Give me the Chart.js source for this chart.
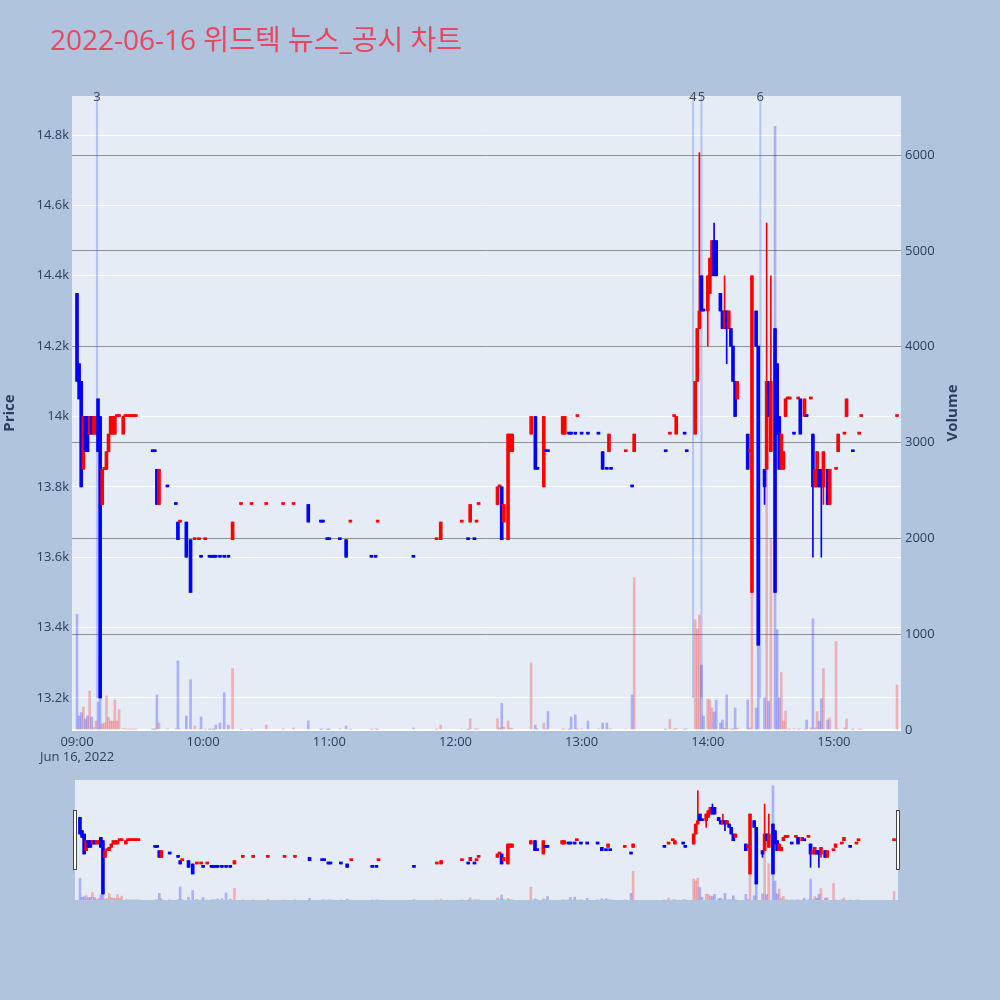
<!DOCTYPE html>
<html>
<head>
<meta charset="utf-8">
<script src="https://cdn.jsdelivr.net/npm/chart.js@4.4.1/dist/chart.umd.min.js"></script>
<style>
  html, body { margin:0; padding:0; background:#B0C4DE; }
  body { width:1000px; height:1000px; position:relative; overflow:hidden; font-family:"Open Sans","Noto Sans CJK KR",sans-serif; }
  #title { position:absolute; left:50px; top:25px; font-size:28px; line-height:28px; color:#E8475F; white-space:nowrap; font-family:"Open Sans","Noto Sans CJK KR",sans-serif; }
  #mainCanvas { position:absolute; left:0; top:0; }
  #sliderCanvas { position:absolute; left:0; top:770px; }
</style>
</head>
<body>
<canvas id="mainCanvas" width="1000" height="770"></canvas>
<canvas id="sliderCanvas" width="1000" height="140"></canvas>
<div id="title">2022-06-16 위드텍 뉴스_공시 차트</div>
<script>
// ---------------- DATA ----------------
const times = [
 "09:00","09:01","09:02","09:03","09:04","09:05","09:06","09:07","09:08","09:09",
 "09:10","09:11","09:12","09:13","09:14","09:15","09:16","09:17","09:18","09:19",
 "09:20","09:22","09:23","09:24","09:25","09:26","09:27","09:28","09:36","09:37",
 "09:38","09:39","09:43","09:47","09:48","09:49","09:52","09:54","09:56","09:58",
 "09:59","10:01","10:03","10:04","10:05","10:06","10:08","10:10","10:12","10:14",
 "10:18","10:23","10:30","10:38","10:43","10:50","10:56","10:57","10:59","11:00",
 "11:05","11:08","11:10","11:20","11:22","11:23","11:40","11:51","11:53","12:03",
 "12:06","12:07","12:09","12:10","12:11","12:20","12:21","12:22","12:23","12:25",
 "12:26","12:27","12:36","12:38","12:39","12:42","12:43","12:44","12:51","12:52",
 "12:54","12:55","12:57","12:58","13:00","13:03","13:08","13:10","13:12","13:13",
 "13:14","13:21","13:24","13:25","13:40","13:42","13:44","13:45","13:49","13:50",
 "13:54","13:55","13:56","13:57","13:58","14:00","14:01","14:02","14:03","14:04",
 "14:06","14:07","14:08","14:09","14:10","14:11","14:12","14:13","14:14","14:19",
 "14:20","14:21","14:23","14:24","14:27","14:28","14:29","14:30","14:32","14:33",
 "14:34","14:35","14:36","14:37","14:38","14:39","14:41","14:43","14:44","14:46",
 "14:47","14:49","14:50","14:51","14:52","14:53","14:54","14:55","14:57","14:58",
 "15:01","15:02","15:05","15:06","15:09","15:12","15:13","15:30"
];
const opens = [
 14350,14150,14100,13850,14000,14000,13950,14000,13950,13950,
 14050,14000,13750,13850,13850,13900,13950,13950,13950,14000,
 14000,13950,14000,14000,14000,14000,14000,14000,13900,13900,
 13850,13750,13800,13750,13700,13700,13700,13650,13650,13650,
 13600,13650,13600,13600,13600,13600,13600,13600,13600,13650,
 13750,13750,13750,13750,13750,13750,13700,13700,13650,13650,
 13650,13650,13700,13600,13600,13700,13600,13650,13650,13700,
 13650,13700,13650,13700,13750,13750,13800,13800,13700,13650,
 13900,13900,13950,14000,13850,13800,13900,13900,13950,13950,
 13950,13950,13950,14000,13950,13950,13950,13900,13850,13900,
 13850,13900,13800,13900,13900,13950,14000,13950,13950,13900,
 13950,14100,14250,14400,14300,14300,14350,14400,14500,14500,
 14350,14300,14250,14300,14250,14250,14200,14100,14050,13950,
 13900,13500,14300,14200,13850,13850,14100,13900,14250,14150,
 14000,13850,13850,14000,14050,14050,13950,14050,14050,14000,
 14000,14050,13950,13800,13800,13850,13850,13800,13850,13750,
 13850,13900,13950,14000,13900,13950,14000,14000
];
const highs = [
 14350,14150,14100,14000,14000,14000,14000,14000,14000,14000,
 14050,14000,13850,13850,13900,13950,14000,14000,14000,14000,
 14000,14000,14000,14000,14000,14000,14000,14000,13900,13900,
 13850,13850,13800,13750,13700,13700,13700,13650,13650,13650,
 13600,13650,13600,13600,13600,13600,13600,13600,13600,13700,
 13750,13750,13750,13750,13750,13750,13700,13700,13650,13650,
 13650,13650,13700,13600,13600,13700,13600,13650,13700,13700,
 13650,13750,13650,13700,13750,13800,13800,13800,13750,13950,
 13950,13950,14000,14000,13850,14000,13900,13900,14000,14000,
 13950,13950,13950,14000,13950,13950,13950,13900,13850,13950,
 13850,13900,13800,13950,13900,13950,14000,14000,13950,13900,
 14100,14250,14750,14400,14300,14400,14450,14500,14550,14500,
 14350,14300,14400,14300,14300,14250,14200,14100,14100,13950,
 13900,14400,14300,14200,13850,14550,14100,14400,14250,14150,
 14000,13950,13900,14050,14050,14050,13950,14050,14050,14050,
 14000,14050,13950,13850,13900,13850,13850,13900,13850,13850,
 13850,13950,13950,14050,13900,13950,14000,14000
];
const lows = [
 14100,14050,13800,13850,13900,13900,13950,13950,13950,13950,
 13900,13200,13750,13850,13850,13900,13950,13950,13950,14000,
 14000,13950,14000,14000,14000,14000,14000,14000,13900,13900,
 13750,13750,13800,13750,13650,13700,13600,13500,13650,13650,
 13600,13650,13600,13600,13600,13600,13600,13600,13600,13650,
 13750,13750,13750,13750,13750,13700,13700,13700,13650,13650,
 13650,13600,13700,13600,13600,13700,13600,13650,13650,13700,
 13650,13700,13650,13700,13750,13750,13800,13650,13700,13650,
 13900,13900,13950,13850,13850,13800,13900,13900,13950,13950,
 13950,13950,13950,14000,13950,13950,13950,13850,13850,13900,
 13850,13900,13800,13900,13900,13950,14000,13950,13950,13900,
 13950,14100,14250,14300,14300,14200,14350,14400,14400,14400,
 14300,14250,14250,14150,14250,14200,14100,14000,14050,13850,
 13900,13500,14200,13350,13750,13850,14000,13900,13500,13950,
 13850,13850,13850,14000,14050,14050,13950,14050,13950,14000,
 14000,14050,13600,13800,13800,13800,13600,13750,13750,13750,
 13850,13900,13950,14000,13900,13950,14000,14000
];
const closes = [
 14100,14050,13800,14000,13900,13900,14000,13950,14000,14000,
 13900,13200,13850,13850,13900,13950,14000,14000,14000,14000,
 14000,14000,14000,14000,14000,14000,14000,14000,13900,13900,
 13750,13850,13800,13750,13650,13700,13600,13500,13650,13650,
 13600,13650,13600,13600,13600,13600,13600,13600,13600,13700,
 13750,13750,13750,13750,13750,13700,13700,13700,13650,13650,
 13650,13600,13700,13600,13600,13700,13600,13650,13700,13700,
 13650,13750,13650,13700,13750,13800,13800,13650,13750,13950,
 13950,13950,14000,13850,13850,14000,13900,13900,14000,14000,
 13950,13950,13950,14000,13950,13950,13950,13850,13850,13950,
 13850,13900,13800,13950,13900,13950,14000,14000,13950,13900,
 14100,14250,14300,14300,14300,14400,14450,14500,14400,14400,
 14300,14250,14300,14250,14300,14200,14100,14000,14100,13850,
 13900,14400,14200,13350,13800,14100,14000,14100,13500,13950,
 13850,13950,13900,14050,14050,14050,13950,14050,13950,14050,
 14000,14050,13800,13850,13900,13800,13800,13900,13750,13850,
 13850,13950,13950,14050,13900,13950,14000,14000
];
const volumes = [
 1210,146,181,240,115,146,408,136,24,94,
 293,770,63,73,356,136,94,94,314,94,
 213,15,10,8,10,8,10,8,5,5,
 366,73,10,10,722,10,146,523,42,10,
 136,5,5,10,5,52,73,390,52,641,
 5,5,52,5,21,94,5,10,5,5,
 10,42,5,5,10,5,21,5,52,10,
 5,118,10,5,10,118,21,279,30,94,
 20,15,700,52,10,73,10,192,5,10,
 5,136,157,5,10,94,10,73,73,10,
 10,10,366,1590,5,108,5,15,5,10,
 1150,1053,1200,680,146,324,314,230,188,314,
 73,104,20,366,10,10,5,230,20,314,
 21,1500,230,900,338,3500,300,2000,6300,1046,
 338,600,94,198,10,5,10,5,10,5,
 104,21,1160,21,192,94,327,641,104,125,
 924,10,21,115,5,5,10,470
];
const priceTicks = [13200,13400,13600,13800,14000,14200,14400,14600,14800];
const volumeTicks = [0,1000,2000,3000,4000,5000,6000];
const timeTickLabels = ["09:00","10:00","11:00","12:00","13:00","14:00","15:00"];
const dateLabel = "Jun 16, 2022";
const newsTimes = ["09:09:30","13:53:00","13:57:00","14:25:00"];
const newsLabels = ["3","4","5","6"];

// ---------------- HELPERS ----------------
const FONT = '"Open Sans", "Noto Sans CJK KR", sans-serif';
Chart.defaults.font.family = FONT;
const RED = '#FF0000', BLUE = '#0000FF';
const RED_V = 'rgba(255,0,0,0.25)', BLUE_V = 'rgba(0,0,255,0.25)';
const TXT = '#2a3f5f';

function toMin(t){ const p = t.split(':').map(Number); return (p[0]-9)*60 + p[1] + (p[2]||0)/60; }
const xs = times.map(toMin);

// increasing / decreasing, doji decided by previous close (plotly rule)
const inc = [];
{
  let prevC = null, prevInc = true;
  for (let i = 0; i < xs.length; i++) {
    const o = opens[i], c = closes[i];
    let v;
    if (c > o) v = true;
    else if (c < o) v = false;
    else if (prevC !== null && c > prevC) v = true;
    else if (prevC !== null && c < prevC) v = false;
    else v = prevInc;
    inc.push(v); prevInc = v; prevC = c;
  }
}
const minLow = Math.min(...lows);

function buildDatasets(){
  return [
    { label:'wick', yAxisID:'y', order:3, grouped:false, barThickness:1,
      data: xs.map((x,i)=>({x, y:[lows[i], highs[i]]})),
      backgroundColor: inc.map(v=>v?RED:BLUE) },
    { label:'body', yAxisID:'y', order:2, grouped:false, barThickness:3, minBarLength:2,
      data: xs.map((x,i)=>({x, y:[Math.min(opens[i],closes[i]), Math.max(opens[i],closes[i])]})),
      backgroundColor: inc.map(v=>v?RED:BLUE) },
    { label:'volume', yAxisID:'y2', order:1, grouped:false, barThickness:2,
      data: xs.map((x,i)=>({x, y:volumes[i]})),
      backgroundColor: inc.map(v=>v?RED_V:BLUE_V) }
  ];
}

const X_MIN = -2.38, X_MAX = 391.9;
const Y_MIN = 13109, Y_MAX = 14911;
const Y2_MIN = 0, Y2_MAX = 6617;

const plotBg = {
  id:'plotBg',
  beforeDraw(chart){
    const a = chart.chartArea, ctx = chart.ctx;
    ctx.save(); ctx.fillStyle = '#E5ECF6';
    ctx.fillRect(a.left, a.top, a.right-a.left, a.bottom-a.top);
    ctx.restore();
  }
};

const newsPlugin = {
  id:'news',
  beforeDatasetsDraw(chart){
    const ctx = chart.ctx, a = chart.chartArea;
    const xS = chart.scales.x, yS = chart.scales.y;
    ctx.save();
    ctx.strokeStyle = 'rgba(65,105,225,0.3)';
    ctx.lineWidth = 2;
    newsTimes.forEach(t=>{
      const px = xS.getPixelForValue(toMin(t));
      ctx.beginPath();
      ctx.moveTo(px, yS.getPixelForValue(minLow));
      ctx.lineTo(px, a.top);
      ctx.stroke();
    });
    ctx.restore();
  },
  afterDraw(chart){
    const ctx = chart.ctx, a = chart.chartArea, xS = chart.scales.x;
    ctx.save();
    ctx.fillStyle = '#444';
    ctx.font = '13px ' + FONT;
    ctx.textAlign = 'center'; ctx.textBaseline = 'middle';
    newsTimes.forEach((t,i)=>{
      ctx.fillText(newsLabels[i], xS.getPixelForValue(toMin(t)), a.top + 1);
    });
    // axis titles (plotly style, both rotated -90)
    const cy = (a.top + a.bottom)/2;
    ctx.fillStyle = TXT;
    ctx.font = 'bold 15px ' + FONT;
    [['Price', 10], ['Volume', 953]].forEach(([txt, x])=>{
      ctx.save(); ctx.translate(x, cy); ctx.rotate(-Math.PI/2);
      ctx.fillText(txt, 0, 0); ctx.restore();
    });
    ctx.restore();
  }
};

new Chart(document.getElementById('mainCanvas'), {
  type:'bar',
  data:{ datasets: buildDatasets() },
  options:{
    responsive:false, animation:false,
    layout:{ padding:{ left:0, right:0, top:96, bottom:0 } },
    plugins:{ legend:{display:false}, tooltip:{enabled:false} },
    scales:{
      x:{ type:'linear', min:X_MIN, max:X_MAX, offset:false,
          grid:{ display:false, drawTicks:false }, border:{ display:false },
          afterBuildTicks:s=>{ s.ticks = timeTickLabels.map(t=>({value:toMin(t)})); },
          afterFit:s=>{ s.height = 40; },
          ticks:{ autoSkip:false, maxRotation:0, color:TXT, font:{size:13}, padding:4,
                  callback:(v,i)=> i===0 ? [timeTickLabels[0], dateLabel] : timeTickLabels[i] } },
      y:{ type:'linear', position:'left', min:Y_MIN, max:Y_MAX,
          grid:{ color:'#ffffff', lineWidth:1, drawTicks:false }, border:{ display:false },
          afterBuildTicks:s=>{ s.ticks = priceTicks.map(v=>({value:v})); },
          afterFit:s=>{ s.width = 72; },
          ticks:{ color:TXT, font:{size:13}, padding:3, callback:v=> (v/1000)+'k' } },
      y2:{ type:'linear', position:'right', min:Y2_MIN, max:Y2_MAX, z:1,
          grid:{ color:c=> (c.tick && c.tick.value===0) ? '#ffffff' : 'rgba(128,128,128,0.85)',
                 lineWidth:c=> (c.tick && c.tick.value===0) ? 2 : 1, drawTicks:false },
          border:{ display:false },
          afterBuildTicks:s=>{ s.ticks = volumeTicks.map(v=>({value:v})); },
          afterFit:s=>{ s.width = 99; },
          ticks:{ color:TXT, font:{size:13}, padding:4, callback:v=> String(v) } }
    }
  },
  plugins:[plotBg, newsPlugin]
});

const sliderDeco = {
  id:'sliderDeco',
  beforeDraw(chart){
    const a = chart.chartArea, ctx = chart.ctx;
    ctx.save(); ctx.fillStyle = '#E5ECF6';
    ctx.fillRect(a.left, a.top, a.right-a.left, a.bottom-a.top);
    ctx.restore();
  },
  afterDraw(chart){
    const a = chart.chartArea, ctx = chart.ctx;
    ctx.save();
    ctx.fillStyle = '#ffffff'; ctx.strokeStyle = '#444'; ctx.lineWidth = 1;
    [a.left, a.right].forEach(x=>{
      ctx.fillRect(x-2, 40, 4, 60);
      ctx.strokeRect(x-2+0.5, 40.5, 3, 59);
    });
    ctx.restore();
  }
};

new Chart(document.getElementById('sliderCanvas'), {
  type:'bar',
  data:{ datasets: buildDatasets() },
  options:{
    responsive:false, animation:false,
    layout:{ padding:{ left:75, right:102, top:10, bottom:10 } },
    plugins:{ legend:{display:false}, tooltip:{enabled:false} },
    scales:{
      x:{ type:'linear', display:false, min:X_MIN, max:X_MAX, offset:false },
      y:{ type:'linear', display:false, min:Y_MIN, max:Y_MAX },
      y2:{ type:'linear', display:false, min:Y2_MIN, max:Y2_MAX }
    }
  },
  plugins:[sliderDeco]
});
</script>
</body>
</html>
